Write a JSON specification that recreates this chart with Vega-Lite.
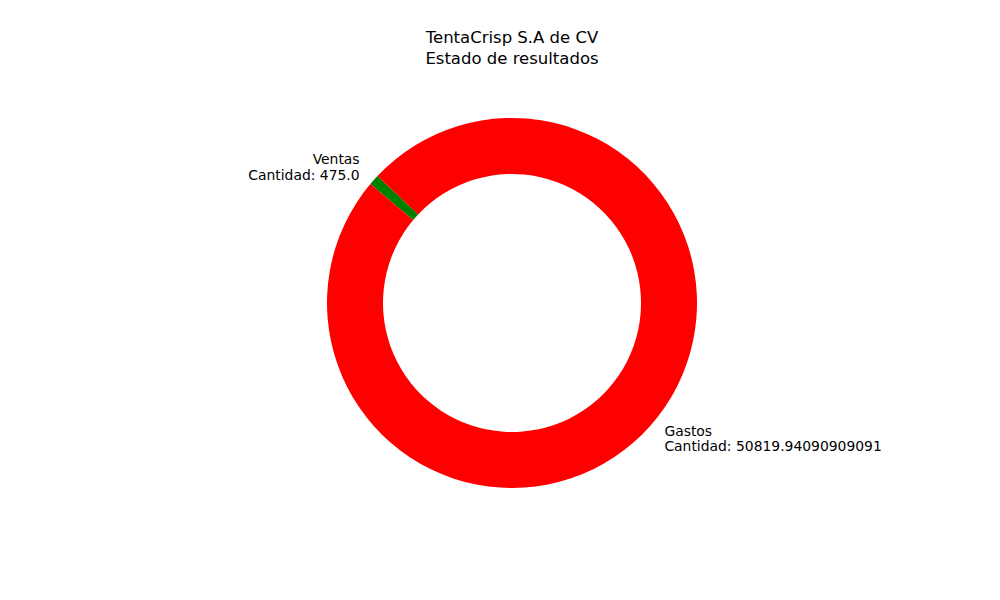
{
  "$schema": "https://vega.github.io/schema/vega-lite/v6.json",
  "width": 976,
  "height": 594,
  "autosize": "none",
  "padding": {"left": 24, "top": 6, "right": 0, "bottom": 0},
  "background": "white",
  "config": {"view": {"stroke": null}, "font": "DejaVu Sans"},
  "title": {
    "text": ["TentaCrisp S.A de CV", "Estado de resultados"],
    "frame": "group",
    "anchor": "middle",
    "orient": "top",
    "offset": -61,
    "font": "DejaVu Sans",
    "fontSize": 16.5,
    "fontWeight": "normal",
    "lineHeight": 21,
    "color": "black"
  },
  "data": {
    "values": [
      {"cat": "Ventas", "cantidad": 475.0, "label": "Ventas\nCantidad: 475.0"},
      {"cat": "Gastos", "cantidad": 50819.94090909091, "label": "Gastos\nCantidad: 50819.94090909091"}
    ]
  },
  "encoding": {
    "theta": {"field": "cantidad", "type": "quantitative", "stack": true, "scale": {"range": [-0.8145, 5.4687]}},
    "order": {"field": "cat", "sort": "ascending"}
  },
  "layer": [
    {
      "mark": {"type": "arc", "innerRadius": 129, "outerRadius": 185},
      "encoding": {
        "color": {"field": "cat", "type": "nominal", "scale": {"domain": ["Ventas", "Gastos"], "range": ["#008000", "#ff0000"]}, "legend": null}
      }
    },
    {
      "mark": {"type": "text", "radius": 204, "align": "right", "baseline": "middle", "lineBreak": "\n", "fontSize": 13.9, "lineHeight": 15.5, "dy": -7, "font": "DejaVu Sans", "color": "black"},
      "encoding": {
        "text": {"condition": {"test": "datum.cat === 'Ventas'", "field": "label"}, "value": ""}
      }
    },
    {
      "mark": {"type": "text", "radius": 204, "align": "left", "baseline": "middle", "lineBreak": "\n", "fontSize": 13.9, "lineHeight": 15.5, "dy": -7, "font": "DejaVu Sans", "color": "black"},
      "encoding": {
        "text": {"condition": {"test": "datum.cat === 'Gastos'", "field": "label"}, "value": ""}
      }
    }
  ]
}
